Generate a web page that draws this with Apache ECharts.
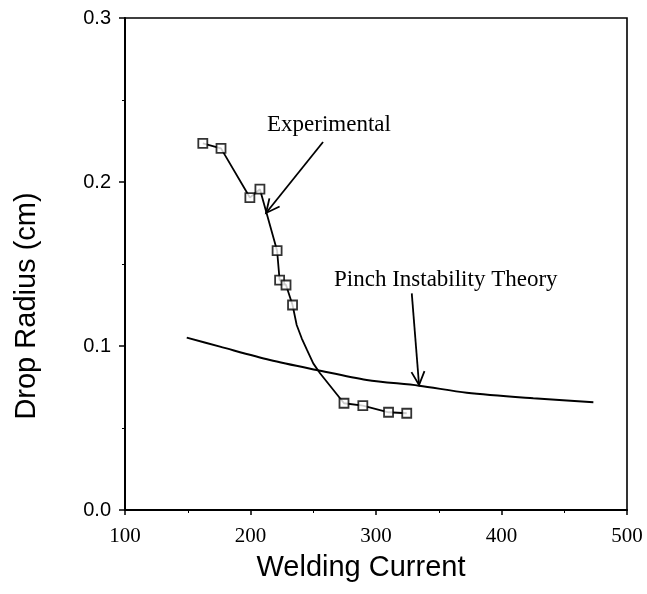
<!DOCTYPE html>
<html>
<head>
<meta charset="utf-8">
<script src="https://cdn.jsdelivr.net/npm/echarts@6/dist/echarts.min.js"></script>
<style>html,body{margin:0;padding:0;background:#fff;}#c{width:647px;height:594px;}</style>
</head>
<body>
<div id="c"></div>
<script>
// Experimental markers
const expX = [162, 176.5, 199.5, 207.5, 221.2, 223.2, 228.3, 233.5, 274.5, 289.5, 310, 324.5];
const expY = [0.2236, 0.2205, 0.1905, 0.1956, 0.1581, 0.1402, 0.1372, 0.1250, 0.0651, 0.0636, 0.0596, 0.0590];
// Experimental connecting line (through markers and along the drawn curve)
const expLineX = [162, 176.5, 199.5, 207.5, 221.2, 223.2, 228.3, 233.5, 236.8, 240.8, 245, 250, 255.4, 274.5, 289.5, 310, 324.5];
const expLineY = [0.2236, 0.2205, 0.1905, 0.1956, 0.1581, 0.1402, 0.1372, 0.1250, 0.1128, 0.1047, 0.0976, 0.0894, 0.0834, 0.0651, 0.0636, 0.0596, 0.0590];
// Pinch instability theory curve
const theoryX = [149.2, 175.7, 215.5, 252.7, 292.6, 334.3, 372.3, 425.3, 473.2];
const theoryY = [0.1051, 0.0996, 0.0915, 0.0854, 0.0793, 0.0758, 0.0715, 0.0681, 0.0657];
// Annotation arrows: tail x, tail y, tip x, tip y
const arrowTailX = [257.8, 328.5];
const arrowTailY = [0.2244, 0.1321];
const arrowTipX = [212.4, 334.3];
const arrowTipY = [0.1811, 0.0762];
// Annotation texts
const annText = ['Experimental', 'Pinch Instability Theory'];
const annX = [262.5, 355.6];
const annY = [0.2348, 0.1404];
// Axis ticks
const xTicks = [100, 200, 300, 400, 500];
const yTicks = [0.0, 0.1, 0.2, 0.3];

const zip = (a, b) => a.map((v, i) => [v, b[i]]);

const chart = echarts.init(document.getElementById('c'), null, {renderer: 'canvas'});
chart.setOption({
  animation: false,
  backgroundColor: '#fff',
  grid: {left: 125, right: 20, top: 18, bottom: 84, show: true, borderColor: '#000', borderWidth: 1.6},
  xAxis: {
    type: 'value', min: xTicks[0], max: xTicks[xTicks.length - 1], interval: 100,
    name: 'Welding Current', nameLocation: 'middle', nameGap: 43,
    nameTextStyle: {fontFamily: 'Liberation Sans', fontSize: 29, color: '#000', padding: [0, 30, 0, 0]},
    axisLine: {lineStyle: {color: '#000', width: 2}},
    axisTick: {length: 5, lineStyle: {color: '#000', width: 1.5}},
    minorTick: {show: true, splitNumber: 2, length: 3, lineStyle: {color: '#000', width: 1}},
    splitLine: {show: false},
    axisLabel: {fontFamily: 'Liberation Serif', fontSize: 21, color: '#000', margin: 16}
  },
  yAxis: {
    type: 'value', min: yTicks[0], max: yTicks[yTicks.length - 1], interval: 0.1,
    name: 'Drop Radius (cm)', nameLocation: 'middle', nameGap: 84, nameRotate: 90,
    nameTextStyle: {fontFamily: 'Liberation Sans', fontSize: 29, color: '#000', padding: [0, 84, 0, 0]},
    axisLine: {lineStyle: {color: '#000', width: 2}},
    axisTick: {length: 6, lineStyle: {color: '#000', width: 1.5}},
    minorTick: {show: true, splitNumber: 2, length: 3, lineStyle: {color: '#000', width: 1}},
    splitLine: {show: false},
    axisLabel: {fontFamily: 'Liberation Sans', fontSize: 20, color: '#000', margin: 14,
      formatter: v => v.toFixed(1)}
  },
  series: [
    {
      type: 'line', data: zip(theoryX, theoryY), smooth: 0.3, showSymbol: false, symbol: 'none',
      lineStyle: {color: '#000', width: 2}, z: 2
    },
    {
      type: 'line', data: zip(expLineX, expLineY), showSymbol: false, symbol: 'none',
      lineStyle: {color: '#000', width: 1.8}, z: 2
    },
    {
      type: 'scatter', data: zip(expX, expY), symbol: 'rect', symbolSize: 9,
      itemStyle: {color: '#fff', borderColor: '#000', borderWidth: 1.8}, z: 3
    },
    {
      type: 'custom', coordinateSystem: 'cartesian2d',
      data: arrowTailX.map((v, i) => [v, arrowTailY[i], arrowTipX[i], arrowTipY[i]]),
      encode: {x: [0, 2], y: [1, 3]},
      renderItem: function (params, api) {
        const p1 = api.coord([api.value(0), api.value(1)]);
        const p2 = api.coord([api.value(2), api.value(3)]);
        const ang = Math.atan2(p1[1] - p2[1], p1[0] - p2[0]);
        const L = 15, a = 0.45;
        const h1 = [p2[0] + L * Math.cos(ang + a), p2[1] + L * Math.sin(ang + a)];
        const h2 = [p2[0] + L * Math.cos(ang - a), p2[1] + L * Math.sin(ang - a)];
        return {
          type: 'group',
          children: [
            {type: 'line', shape: {x1: p1[0], y1: p1[1], x2: p2[0], y2: p2[1]}, style: {stroke: '#000', lineWidth: 1.8}},
            {type: 'polyline', shape: {points: [h1, p2, h2]}, style: {stroke: '#000', lineWidth: 1.8, fill: null}}
          ]
        };
      }, z: 4
    },
    {
      type: 'custom', coordinateSystem: 'cartesian2d',
      data: annX.map((v, i) => [v, annY[i], i]),
      encode: {x: 0, y: 1},
      renderItem: function (params, api) {
        const p = api.coord([api.value(0), api.value(1)]);
        return {
          type: 'text', x: p[0], y: p[1],
          style: {text: annText[api.value(2)], font: '23px "Liberation Serif"', fill: '#000',
            align: 'center', verticalAlign: 'middle'}
        };
      }, z: 5
    }
  ]
});
</script>
</body>
</html>
